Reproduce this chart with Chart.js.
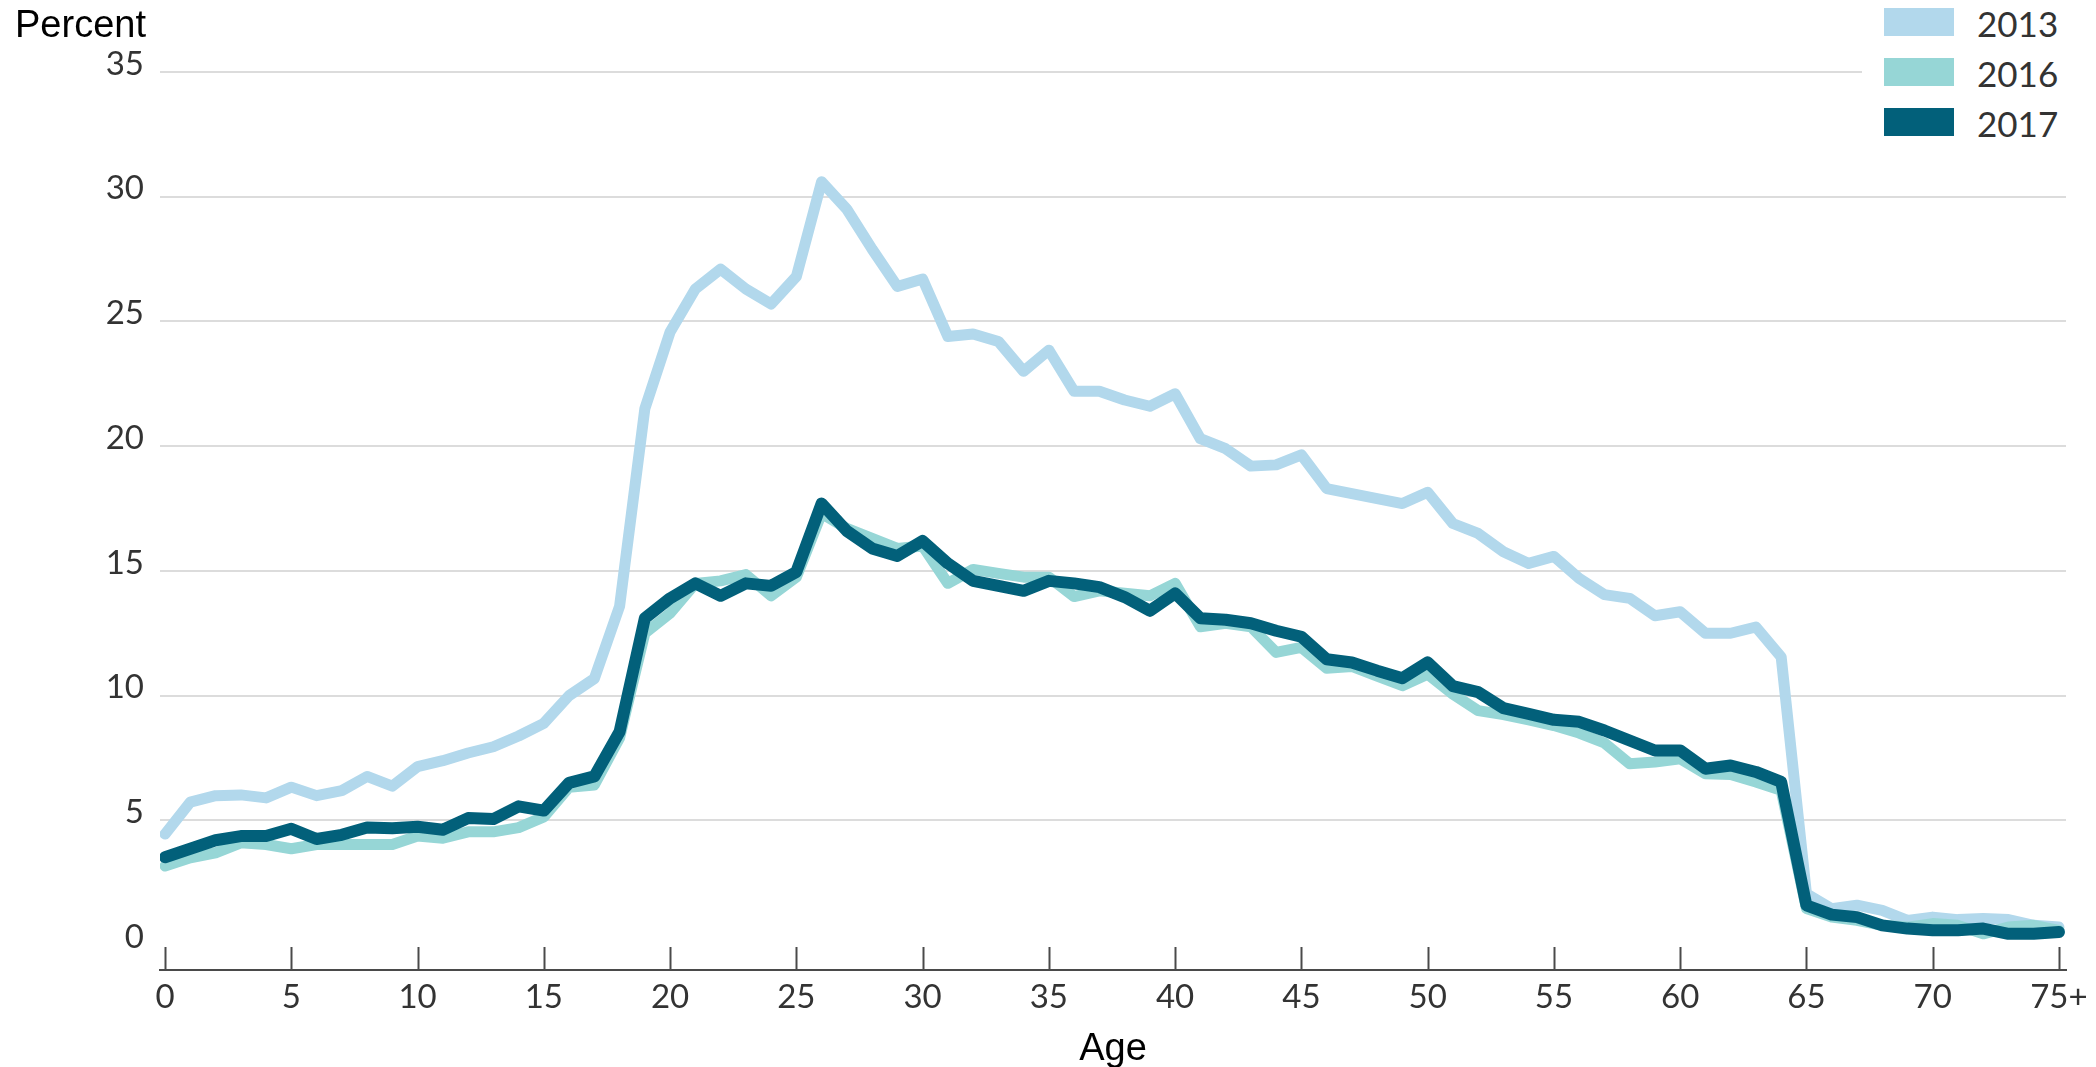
<!DOCTYPE html>
<html>
<head>
<meta charset="utf-8">
<title>Percent by age, 2013 / 2016 / 2017</title>
<script src="https://cdn.jsdelivr.net/npm/chart.js@4/dist/chart.umd.min.js"></script>
<style>
  html, body { margin: 0; padding: 0; background: #fff; }
  #wrap { position: relative; width: 2096px; height: 1067px; }
  #ytitle {
    position: absolute; left: 15px; top: 3px;
    font: 38px "Liberation Sans", Arial, sans-serif; color: #000;
  }
  #legend {
    position: absolute; left: 1862px; top: 0; width: 234px; height: 145px;
    background: #fff;
  }
  .item { position: absolute; left: 22px; height: 28px; }
  .item span.box { position: absolute; left: 0; top: 0; width: 70px; height: 28px; }
  .item span.txt {
    position: absolute; left: 93px; top: -6px; white-space: nowrap;
    font: 35px Lato, sans-serif; color: #333;
  }
</style>
</head>
<body>
<div id="wrap">
  <canvas id="chart" width="2096" height="1067"></canvas>
  <div id="ytitle">Percent</div>
  <div id="legend"></div>
</div>
<script>
// ages 0..74 plus the open "75+" group
const ageLabels = [
  '0','1','2','3','4','5','6','7','8','9',
  '10','11','12','13','14','15','16','17','18','19',
  '20','21','22','23','24','25','26','27','28','29',
  '30','31','32','33','34','35','36','37','38','39',
  '40','41','42','43','44','45','46','47','48','49',
  '50','51','52','53','54','55','56','57','58','59',
  '60','61','62','63','64','65','66','67','68','69',
  '70','71','72','73','74','75+'
];

const values2013 = [
  4.45, 5.73, 5.99, 6.02, 5.9, 6.33, 5.99, 6.19, 6.76, 6.37,
  7.15, 7.39, 7.7, 7.95, 8.38, 8.89, 10.0, 10.68, 13.58, 21.5,
  24.58, 26.3, 27.1, 26.3, 25.7, 26.8, 30.6, 29.5, 27.9, 26.4,
  26.7, 24.4, 24.5, 24.2, 23.0, 23.85, 22.2, 22.2, 21.85, 21.6,
  22.1, 20.3, 19.9, 19.2, 19.25, 19.65, 18.3, 18.1, 17.9, 17.7,
  18.15, 16.9, 16.5, 15.77, 15.3, 15.58, 14.7, 14.05, 13.9, 13.2,
  13.36, 12.5, 12.5, 12.75, 11.55, 2.06, 1.46, 1.6, 1.39, 0.99,
  1.12, 1.02, 1.06, 1.02, 0.79, 0.72
];

const values2016 = [
  3.17, 3.5, 3.7, 4.1, 4.03, 3.86, 4.03, 4.03, 4.03, 4.03,
  4.37, 4.28, 4.54, 4.54, 4.71, 5.14, 6.33, 6.42, 8.3, 12.5,
  13.3, 14.5, 14.6, 14.85, 14.0, 14.75, 17.3, 16.7, 16.3, 15.9,
  16.0, 14.5, 15.06, 14.9, 14.75, 14.75, 13.97, 14.2, 14.1, 14.0,
  14.5, 12.76, 12.9, 12.76, 11.73, 11.93, 11.1, 11.17, 10.78, 10.4,
  10.86, 10.06, 9.4, 9.24, 9.03, 8.8, 8.5, 8.1, 7.27, 7.34,
  7.47, 6.87, 6.84, 6.54, 6.2, 1.46, 1.12, 0.99, 0.79, 0.72,
  0.86, 0.79, 0.45, 0.72, 0.79, 0.59
];

const values2017 = [
  3.52, 3.86, 4.2, 4.37, 4.37, 4.66, 4.25, 4.42, 4.71, 4.68,
  4.74, 4.62, 5.09, 5.05, 5.56, 5.39, 6.5, 6.76, 8.55, 13.1,
  13.9, 14.5, 14.0, 14.5, 14.4, 14.96, 17.7, 16.6, 15.9, 15.6,
  16.2, 15.3, 14.6, 14.4, 14.2, 14.6, 14.5, 14.35, 13.95, 13.4,
  14.1, 13.1, 13.04, 12.9, 12.6, 12.36, 11.46, 11.33, 11.0, 10.7,
  11.33, 10.38, 10.14, 9.5, 9.27, 9.03, 8.95, 8.6, 8.2, 7.8,
  7.8, 7.07, 7.2, 6.94, 6.54, 1.59, 1.22, 1.12, 0.79, 0.66,
  0.59, 0.59, 0.66, 0.45, 0.45, 0.52
];

const seriesNames = ['2013', '2016', '2017'];
const seriesColors = ['#b2d8ec', '#96d6d6', '#02607a'];
const xTickAges = [0, 5, 10, 15, 20, 25, 30, 35, 40, 45, 50, 55, 60, 65, 70, 75];
const yTickValues = [0, 5, 10, 15, 20, 25, 30, 35];

const toPoints = vals => vals.map((v, i) => ({ x: i, y: v }));

// html legend, top right
const legendEl = document.getElementById('legend');
seriesNames.forEach((name, i) => {
  const item = document.createElement('div');
  item.className = 'item';
  item.style.top = (8 + i * 50) + 'px';
  item.innerHTML = `<span class="box" style="background:${seriesColors[i]}"></span><span class="txt">${name}</span>`;
  legendEl.appendChild(item);
});

// x tick marks point up from the axis line
const upTicks = {
  id: 'upTicks',
  afterDraw(chart) {
    const xs = chart.scales.x;
    const ctx = chart.ctx;
    const bottom = chart.chartArea.bottom;
    ctx.save();
    ctx.strokeStyle = '#4a4a4a';
    ctx.lineWidth = 2;
    xs.ticks.forEach(t => {
      const px = Math.round(xs.getPixelForValue(t.value)) + 0.5;
      ctx.beginPath();
      ctx.moveTo(px, bottom);
      ctx.lineTo(px, bottom - 23);
      ctx.stroke();
    });
    ctx.restore();
  }
};

const lineStyle = { fill: false, pointRadius: 0, tension: 0, borderCapStyle: 'round', borderJoinStyle: 'round' };

new Chart(document.getElementById('chart'), {
  type: 'line',
  data: {
    datasets: [
      { ...lineStyle, label: seriesNames[0], data: toPoints(values2013), borderColor: seriesColors[0], borderWidth: 11, order: 3 },
      { ...lineStyle, label: seriesNames[1], data: toPoints(values2016), borderColor: seriesColors[1], borderWidth: 11, order: 2 },
      { ...lineStyle, label: seriesNames[2], data: toPoints(values2017), borderColor: seriesColors[2], borderWidth: 12, order: 1 }
    ]
  },
  options: {
    responsive: false,
    animation: false,
    layout: { padding: { top: 72, right: 30, bottom: 0, left: 0 } },
    plugins: { legend: { display: false }, tooltip: { enabled: false } },
    scales: {
      x: {
        type: 'linear',
        min: -0.2,
        max: 75.28,
        afterBuildTicks: s => { s.ticks = xTickAges.map(v => ({ value: v })); },
        afterFit: s => { s.height = 97; },
        grid: { display: false },
        border: { display: true, color: '#4a4a4a', width: 2 },
        ticks: {
          autoSkip: false,
          maxRotation: 0,
          padding: 0,
          color: '#333',
          font: { family: 'Lato', size: 33 },
          callback: v => ageLabels[v]
        },
        title: {
          display: true,
          text: 'Age',
          color: '#000',
          font: { family: 'Liberation Sans', size: 38, lineHeight: 0.9 },
          padding: { top: 0, bottom: 0 }
        }
      },
      y: {
        min: -1,
        max: 35,
        afterBuildTicks: s => { s.ticks = yTickValues.map(v => ({ value: v })); },
        afterFit: s => { s.width = 160; },
        grid: {
          drawTicks: false,
          lineWidth: 2,
          color: c => (c.tick && c.tick.value === 0 ? 'rgba(0,0,0,0)' : '#dcdcdc')
        },
        border: { display: false },
        ticks: {
          padding: 16,
          labelOffset: -8,
          color: '#333',
          font: { family: 'Lato', size: 33 }
        }
      }
    }
  },
  plugins: [upTicks]
});
</script>
</body>
</html>
